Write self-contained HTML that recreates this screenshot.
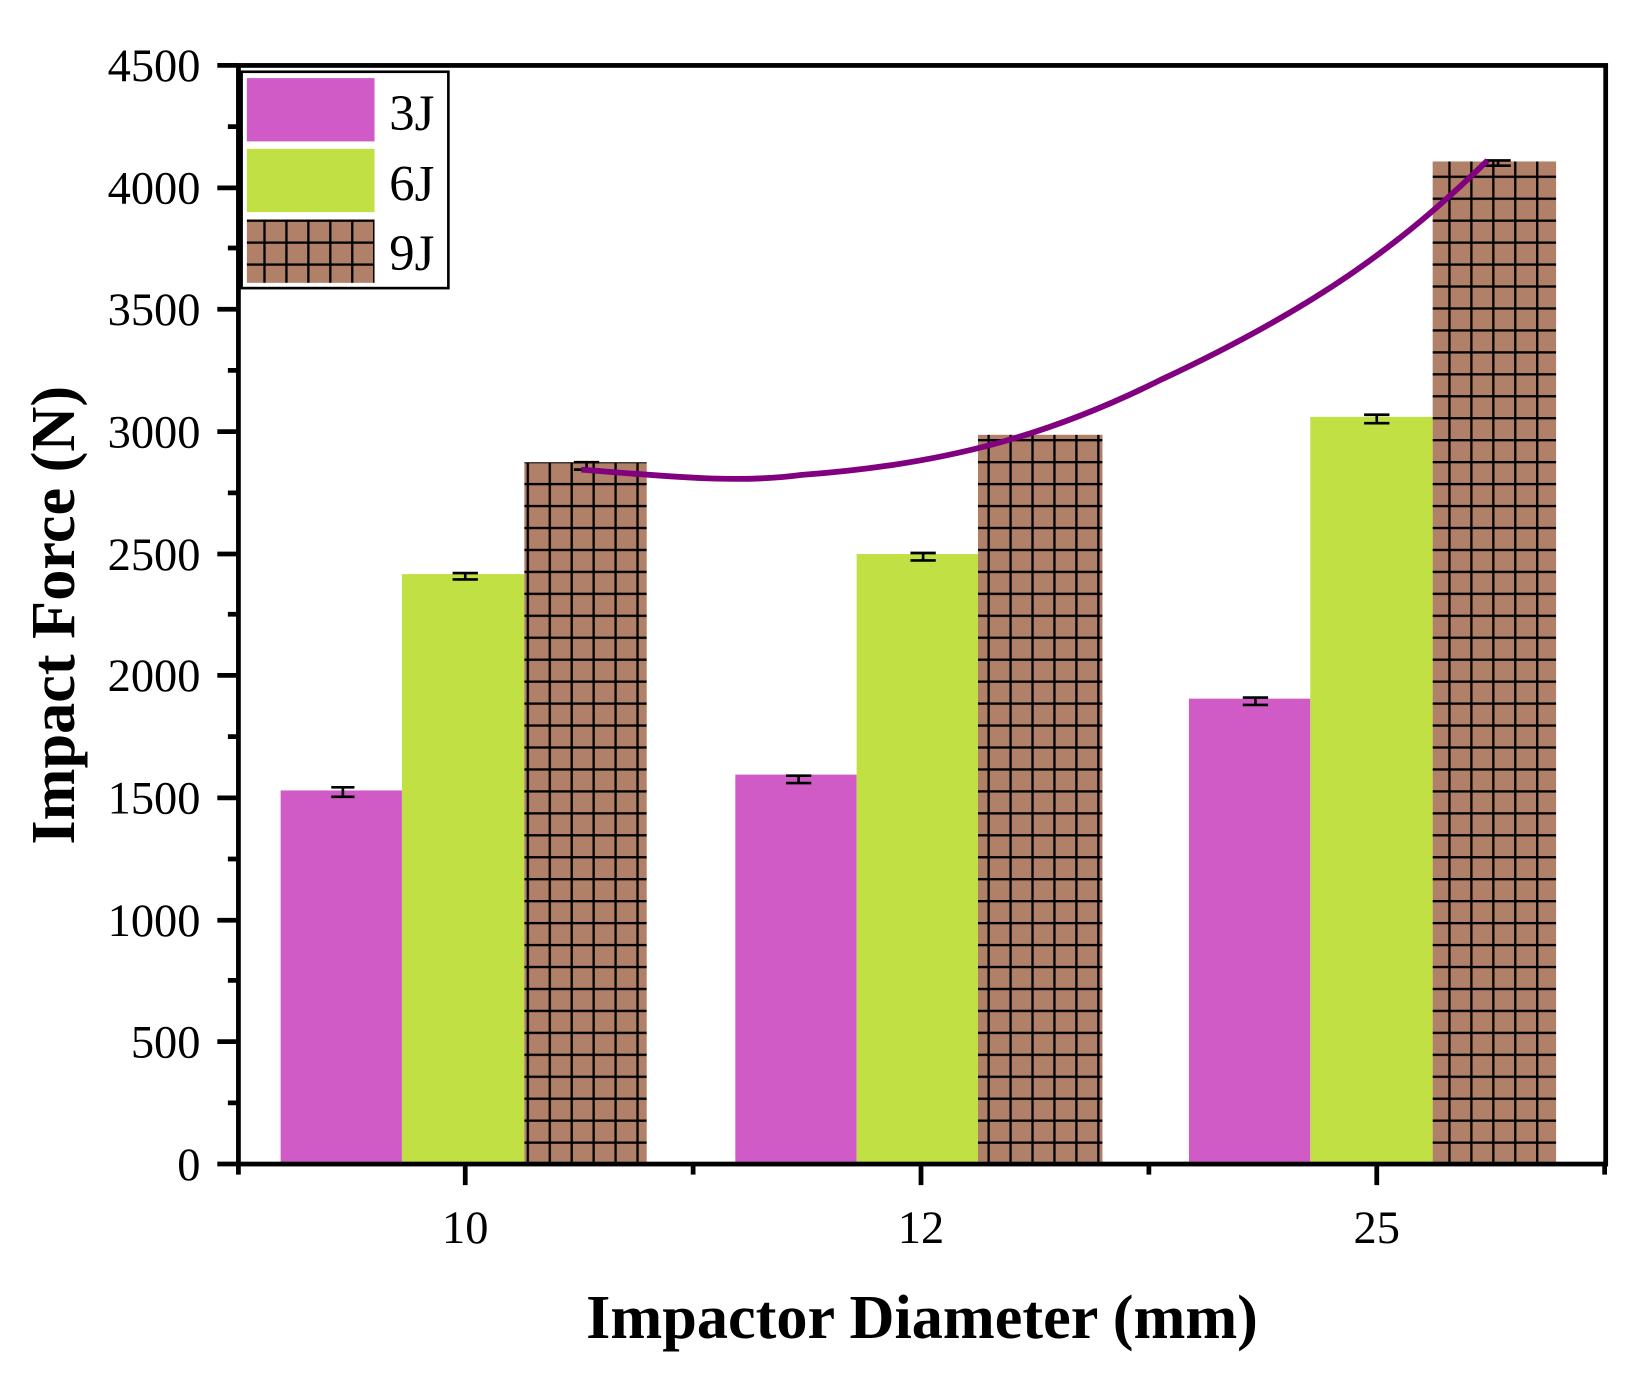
<!DOCTYPE html>
<html><head><meta charset="utf-8"><style>html,body{margin:0;padding:0;background:#fff}svg{display:block}</style></head>
<body>
<svg width="1650" height="1392" viewBox="0 0 1564 1319" preserveAspectRatio="none" xmlns="http://www.w3.org/2000/svg" font-family="Liberation Serif, serif">
<defs>
<pattern id="g" patternUnits="userSpaceOnUse" x="0" y="0" width="20.8" height="20.8">
<rect width="20.8" height="20.8" fill="#b08068"/>
<rect x="0" y="0" width="2.2" height="20.8" fill="#000"/>
<rect x="0" y="0" width="20.8" height="2.2" fill="#000"/>
</pattern>
</defs>
<g>
<rect x="266" y="749" width="115" height="352" fill="#d05bc6"/>
<rect x="381" y="544" width="116" height="557" fill="#c1e044"/>
<rect x="497" y="438" width="116" height="663" fill="url(#g)"/>
<rect x="697" y="734" width="115" height="367" fill="#d05bc6"/>
<rect x="812" y="525" width="115" height="576" fill="#c1e044"/>
<rect x="927" y="412" width="118" height="689" fill="url(#g)"/>
<rect x="1127" y="662" width="115" height="439" fill="#d05bc6"/>
<rect x="1242" y="395" width="116" height="706" fill="#c1e044"/>
<rect x="1358" y="153" width="117" height="948" fill="url(#g)"/>
</g>
<g stroke="#000" stroke-width="2.5" fill="none">
<path d="M314 746h22M314 755h22M325 746v9"/>
<path d="M429 543h24M429 549h24M441 543v6"/>
<path d="M544 438h24M544 445h24M556 438v7"/>
<path d="M745 735h24M745 742h24M757 735v7"/>
<path d="M863 524h24M863 531h24M875 524v7"/>
<path d="M1178 661h24M1178 668h24M1190 661v7"/>
<path d="M1293 393h24M1293 401h24M1305 393v8"/>
<path d="M1408 152h24M1408 157h24M1420 152v5"/>
</g>
<path d="M551 445 C640 452 700 458 760 450 C900 440 1000 410 1100 360 C1250 290 1330 230 1410 152" stroke="#800080" stroke-width="5.5" fill="none"/>
<rect x="226" y="62" width="1296" height="1041" fill="none" stroke="#000" stroke-width="4.5"/>
<g stroke="#000" stroke-width="4.5">
<path d="M206 62h20M206 178h20M206 293h20M206 409h20M206 525h20M206 640h20M206 756h20M206 872h20M206 987h20M206 1103h20"/>
<path d="M216 120h10M216 235h10M216 351h10M216 467h10M216 582h10M216 698h10M216 814h10M216 929h10M216 1045h10"/>
<path d="M441 1103v20M873 1103v20M1305 1103v20M226 1103v10M657 1103v10M1089 1103v10M1521 1103v10"/>
</g>
<g font-size="44" text-anchor="end">
<text x="190" y="77">4500</text><text x="190" y="193">4000</text><text x="190" y="308">3500</text><text x="190" y="424">3000</text><text x="190" y="540">2500</text><text x="190" y="655">2000</text><text x="190" y="771">1500</text><text x="190" y="887">1000</text><text x="190" y="1002">500</text><text x="190" y="1118">0</text>
</g>
<g font-size="44" text-anchor="middle">
<text x="441" y="1178">10</text><text x="873" y="1178">12</text><text x="1305" y="1178">25</text>
</g>
<text x="874" y="1268" font-size="59" font-weight="bold" text-anchor="middle">Impactor Diameter (mm)</text>
<text transform="translate(70,583) rotate(-90)" font-size="59" font-weight="bold" text-anchor="middle">Impact Force (N)</text>
<rect x="229" y="68" width="196" height="205" fill="#fff" stroke="#000" stroke-width="2.5"/>
<rect x="234" y="74" width="121" height="60" fill="#d05bc6"/>
<rect x="234" y="141" width="121" height="60" fill="#c1e044"/>
<rect x="234" y="208" width="121" height="60" fill="url(#g)"/>
<g font-size="48"><text x="369" y="123">3J</text><text x="369" y="190">6J</text><text x="369" y="256">9J</text></g>
</svg>
</body></html>
